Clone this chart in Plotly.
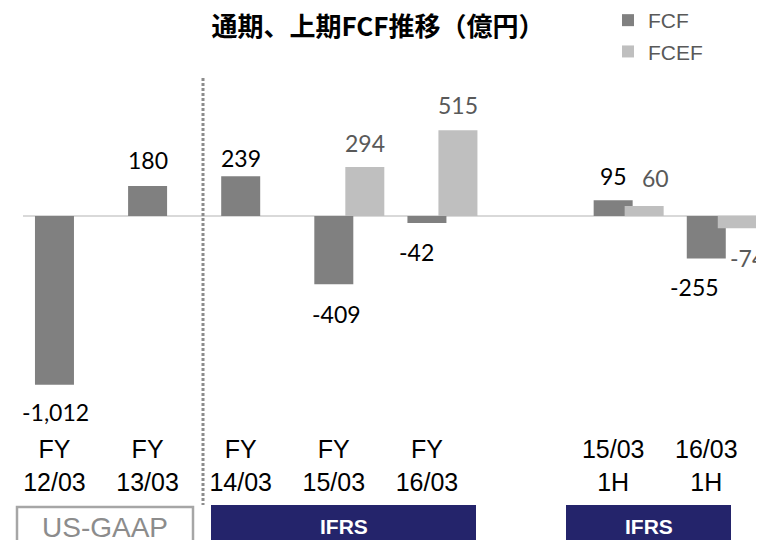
import plotly.graph_objects as go

# ---- data ----
categories = ["FY<br>12/03", "FY<br>13/03", "FY<br>14/03", "FY<br>15/03", "FY<br>16/03",
              "", "15/03<br>1H", "16/03<br>1H"]
fcf = [-1012, 180, 239, -409, -42, None, 95, -255]
fcef = [None, None, None, 294, 515, None, 60, -74]
series_names = ["FCF", "FCEF"]
title_text = "通期、上期FCF推移（億円）"
standards = ["US-GAAP", "IFRS", "IFRS"]

# ---- style / layout ----
OFF = 8                               # default page margin of the html body
W, H = 764 - OFF, 540 - OFF           # figure size
# all positions below are given in reference-page pixels and converted with OFF
L_ref, T_ref, B_ref = 23, 70, 425
L, R, T, B = L_ref - OFF, 0, T_ref - OFF, B_ref - OFF
X_RANGE = [-0.338, 7.62]
PX_X = (W - L - R) / (X_RANGE[1] - X_RANGE[0])
ZERO_PX = 216 - OFF
UNITS_PER_PX = 6.0
Y_RANGE = [-(B - ZERO_PX) * UNITS_PER_PX, (ZERO_PX - T) * UNITS_PER_PX]

BAR_W = 39 / PX_X
SHIFT = 31 / PX_X
C_FCF, C_FCEF = "#808080", "#bfbfbf"
NAVY = "#24246b"

# label offsets (px) relative to bar end: (dx, dy)
fcf_lab_off = [(1, -27), (0, 26), (0, 18), (3, -30), (-10, -29), None, (0, 24), (-12, -28)]
fcef_lab_off = [None, None, None, (0, 24), (0, 25), None, (11, 28), (10, -30)]

def xp(px_ref):
    return (px_ref - OFF - L) / (W - L - R)

def yp(py_ref):
    return (B - (py_ref - OFF)) / (B - T)

xs = list(range(len(categories)))

fig = go.Figure()
fig.add_trace(go.Bar(x=xs, y=fcf, name=series_names[0], marker=dict(color=C_FCF, line_width=0),
                     width=BAR_W, offset=-BAR_W / 2, legendgroup="a"))
fig.add_trace(go.Bar(x=xs, y=fcef, name=series_names[1], marker=dict(color=C_FCEF, line_width=0),
                     width=BAR_W, offset=SHIFT - BAR_W / 2, legendgroup="b"))

annotations = []
lab_font = "Lato, Open Sans, sans-serif"
for i, v in enumerate(fcf):
    if v is None:
        continue
    dx, dy = fcf_lab_off[i]
    annotations.append(dict(x=xs[i], y=v, xref="x", yref="y", text=f"{v:,}", showarrow=False,
                            xanchor="center", yanchor="middle", xshift=dx, yshift=dy,
                            font=dict(family=lab_font, size=23, color="#000000")))
for i, v in enumerate(fcef):
    if v is None:
        continue
    dx, dy = fcef_lab_off[i]
    annotations.append(dict(x=xs[i] + SHIFT, y=v, xref="x", yref="y", text=f"{v:,}", showarrow=False,
                            xanchor="center", yanchor="middle", xshift=dx, yshift=dy,
                            font=dict(family=lab_font, size=23, color="#595959")))

# accounting-standard boxes
boxes = [(17, 193), (211, 476), (566, 731)]
shapes = []
for k, (x0, x1) in enumerate(boxes):
    if standards[k] == "US-GAAP":
        shapes.append(dict(type="rect", xref="paper", yref="paper", x0=xp(x0), x1=xp(x1),
                           y0=yp(507), y1=yp(548), line=dict(color="#a6a6a6", width=2.5),
                           fillcolor="rgba(0,0,0,0)"))
        annotations.append(dict(x=xp((x0 + x1) / 2), y=yp(527), xref="paper", yref="paper",
                                text=standards[k], showarrow=False, xanchor="center", yanchor="middle",
                                font=dict(family="Liberation Sans", size=28, color="#8c8c8c")))
    else:
        shapes.append(dict(type="rect", xref="paper", yref="paper", x0=xp(x0), x1=xp(x1),
                           y0=yp(505), y1=yp(548), line=dict(width=0), fillcolor=NAVY))
        annotations.append(dict(x=xp((x0 + x1) / 2), y=yp(526), xref="paper", yref="paper",
                                text=f"<b>{standards[k]}</b>", showarrow=False, xanchor="center",
                                yanchor="middle",
                                font=dict(family="Liberation Sans", size=21, color="#ffffff")))

# dotted separator between US-GAAP and IFRS years
shapes.append(dict(type="line", xref="paper", yref="paper", x0=xp(203), x1=xp(203),
                   y0=yp(78), y1=yp(505), line=dict(color="#8c8c8c", width=3, dash="3px,2px")))

fig.update_layout(
    width=W, height=H,
    margin=dict(l=L, r=R, t=T, b=H - B, pad=0, autoexpand=False),
    paper_bgcolor="white", plot_bgcolor="white",
    barmode="overlay",
    title=dict(text=f"<b>{title_text}</b>", x=(378 - OFF) / W, xref="container", xanchor="center",
               y=1 - (26.5 - OFF) / H, yref="container", yanchor="middle",
               font=dict(family="Noto Sans CJK JP", size=26, color="#000000")),
    xaxis=dict(range=X_RANGE, tickmode="array", tickvals=xs, ticktext=categories,
               showgrid=False, zeroline=False, showline=False, ticks="", ticklabelstandoff=7,
               tickfont=dict(family="Liberation Sans", size=25, color="#000000")),
    yaxis=dict(range=Y_RANGE, showgrid=False, showticklabels=False, zeroline=True,
               zerolinecolor="#d9d9d9", zerolinewidth=2, showline=False),
    legend=dict(x=xp(608), y=yp(0), xanchor="left", yanchor="top", traceorder="grouped",
                tracegroupgap=1, bgcolor="rgba(0,0,0,0)",
                font=dict(family="Liberation Sans", size=21, color="#595959")),
    shapes=shapes,
    annotations=annotations,
    showlegend=True,
)

fig.write_html("out.html")
